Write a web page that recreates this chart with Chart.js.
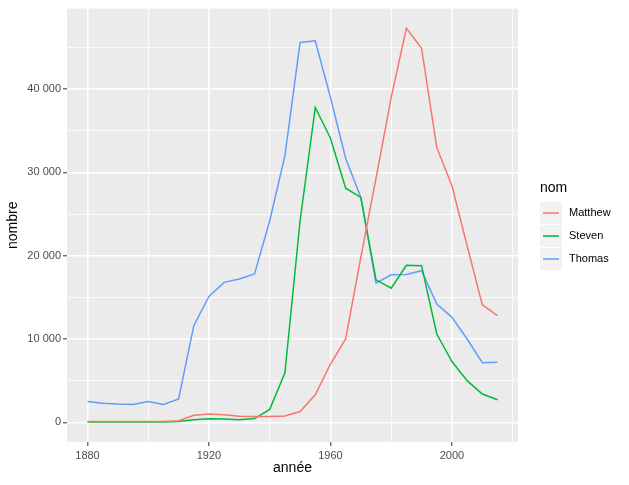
<!DOCTYPE html>
<html>
<head>
<meta charset="utf-8">
<script src="https://cdn.jsdelivr.net/npm/chart.js@4"></script>
<style>
  html, body { margin: 0; padding: 0; background: #fff; }
  #wrap { width: 629px; height: 485px; position: relative; }
</style>
</head>
<body>
<div id="wrap"><canvas id="chart"></canvas></div>
<script>
// years sampled every 5 years
const years = [1880, 1885, 1890, 1895, 1900, 1905, 1910, 1915, 1920, 1925, 1930, 1935, 1940, 1945,
               1950, 1955, 1960, 1965, 1970, 1975, 1980, 1985, 1990, 1995, 2000, 2005, 2010, 2015];

const matthew = [110, 100, 100, 100, 110, 110, 200, 840, 1000, 900, 720, 700, 700, 750,
                 1300, 3300, 7000, 10000, 19800, 29300, 39000, 47300, 44900, 33000, 28400, 21200, 14100, 12800];
const steven  = [30, 30, 30, 30, 40, 40, 90, 300, 420, 400, 300, 450, 1550, 5950,
                 24200, 37800, 34100, 28100, 27000, 17100, 16100, 18850, 18800, 10600, 7300, 5000, 3400, 2700];
const thomas  = [2500, 2300, 2200, 2150, 2500, 2150, 2800, 11600, 15100, 16800, 17200, 17800, 24200, 32000,
                 45600, 45800, 39000, 31700, 27000, 16700, 17700, 17750, 18200, 14200, 12600, 10000, 7150, 7200];

const seriesNames = ['Matthew', 'Steven', 'Thomas'];
const seriesColors = ['#F8766D', '#00BA38', '#619CFF'];

const xTicks = [1880, 1900, 1920, 1940, 1960, 1980, 2000, 2020];
const xLabelled = [1880, 1920, 1960, 2000];
const yTicks = [0, 5000, 10000, 15000, 20000, 25000, 30000, 35000, 40000, 45000];
const yLabelled = [0, 10000, 20000, 30000, 40000];

const FONT = "'Liberation Sans', Arial, sans-serif";

// ggplot-like expansion of 5% on each side
const xMin = 1880 - 0.05 * (2015 - 1880);
const xMax = 2015 + 0.05 * (2015 - 1880);
const yMin = 0 - 0.05 * 47300;
const yMax = 47300 + 0.05 * 47300;

function fmt(v) {
    return String(v).replace(/\B(?=(\d{3})+(?!\d))/g, ' ');
}

const toPoints = vals => years.map((yr, i) => ({ x: yr, y: vals[i] }));

const panelBg = {
    id: 'panelBg',
    beforeDraw(chart) {
        const { ctx, chartArea: a } = chart;
        ctx.save();
        ctx.fillStyle = '#ebebeb';
        ctx.fillRect(a.left, a.top, a.right - a.left, a.bottom - a.top);
        ctx.restore();
    }
};

// legend drawn by hand, ggplot style
const ggLegend = {
    id: 'ggLegend',
    afterDraw(chart) {
        const { ctx, chartArea: a } = chart;
        const x0 = a.right + 22;
        const yTitle = 188;
        ctx.save();
        ctx.fillStyle = '#000';
        ctx.font = '14px ' + FONT;
        ctx.textBaseline = 'middle';
        ctx.textAlign = 'left';
        ctx.fillText('nom', x0, yTitle);
        chart.data.datasets.forEach((ds, i) => {
            const cy = 213 + i * 23;
            ctx.fillStyle = '#f2f2f2';
            ctx.fillRect(x0, cy - 11, 22, 22);
            ctx.strokeStyle = ds.borderColor;
            ctx.lineWidth = 1.5;
            ctx.beginPath();
            ctx.moveTo(x0 + 3, cy);
            ctx.lineTo(x0 + 19, cy);
            ctx.stroke();
            ctx.fillStyle = '#000';
            ctx.font = '11px ' + FONT;
            ctx.fillText(ds.label, x0 + 29, cy);
        });
        ctx.restore();
    }
};

const datasets = [matthew, steven, thomas].map((vals, i) => ({
    label: seriesNames[i],
    data: toPoints(vals),
    borderColor: seriesColors[i],
    backgroundColor: seriesColors[i],
    borderWidth: 1.5,
    pointRadius: 0,
    tension: 0,
    fill: false
}));

new Chart(document.getElementById('chart'), {
    type: 'line',
    data: { datasets: datasets },
    plugins: [panelBg, ggLegend],
    options: {
        responsive: true,
        maintainAspectRatio: false,
        animation: false,
        layout: { padding: { left: 0, top: 7, right: 111, bottom: 0 } },
        plugins: {
            legend: { display: false },
            tooltip: { enabled: false }
        },
        scales: {
            x: {
                type: 'linear',
                min: xMin,
                max: xMax,
                afterBuildTicks: s => { s.ticks = xTicks.map(v => ({ value: v })); },
                afterFit: s => { s.height = 43; },
                border: { display: false },
                grid: {
                    color: '#ffffff',
                    lineWidth: c => xLabelled.includes(c.tick && c.tick.value) ? 1.6 : 0.8,
                    tickColor: c => xLabelled.includes(c.tick && c.tick.value) ? '#333333' : 'rgba(0,0,0,0)',
                    tickLength: 4,
                    tickWidth: 1
                },
                ticks: {
                    autoSkip: false,
                    maxRotation: 0,
                    padding: 3,
                    color: '#4d4d4d',
                    font: { family: FONT, size: 11 },
                    callback: v => xLabelled.includes(v) ? String(v) : ''
                },
                title: {
                    display: true,
                    text: 'année',
                    color: '#000',
                    font: { family: FONT, size: 14 },
                    padding: { top: 0, bottom: 8 }
                }
            },
            y: {
                type: 'linear',
                min: yMin,
                max: yMax,
                afterBuildTicks: s => { s.ticks = yTicks.map(v => ({ value: v })); },
                afterFit: s => { s.width = 67; },
                border: { display: false },
                grid: {
                    color: '#ffffff',
                    lineWidth: c => yLabelled.includes(c.tick && c.tick.value) ? 1.6 : 0.8,
                    tickColor: c => yLabelled.includes(c.tick && c.tick.value) ? '#333333' : 'rgba(0,0,0,0)',
                    tickLength: 4,
                    tickWidth: 1
                },
                ticks: {
                    autoSkip: false,
                    padding: 2,
                    color: '#4d4d4d',
                    font: { family: FONT, size: 11 },
                    callback: v => yLabelled.includes(v) ? fmt(v) : ''
                },
                title: {
                    display: true,
                    text: 'nombre',
                    color: '#000',
                    font: { family: FONT, size: 14 },
                    padding: { top: 5, bottom: 0 }
                }
            }
        }
    }
});
</script>
</body>
</html>
